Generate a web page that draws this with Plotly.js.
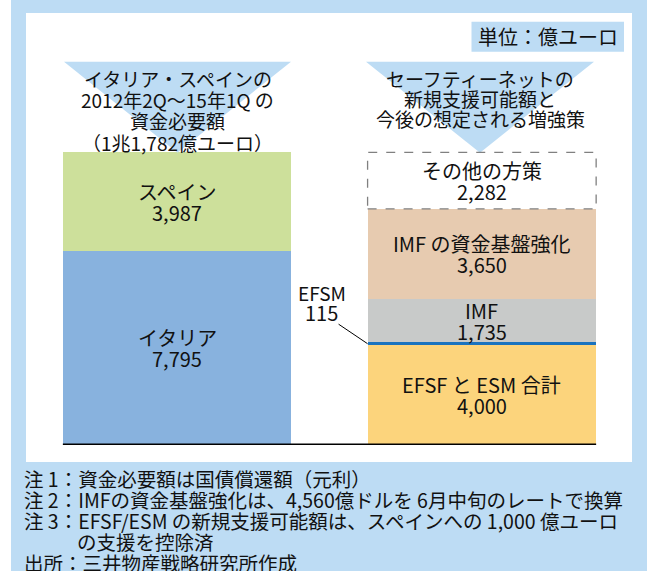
<!DOCTYPE html>
<html>
<head>
<meta charset="utf-8">
<script src="https://cdn.plot.ly/plotly-3.0.1.min.js"></script>
<style>
  html, body { margin: 0; padding: 0; background: #ffffff; }
  #chart { width: 652px; height: 571px; }
</style>
</head>
<body>
<div id="chart"></div>
<script>
// left bar: funding needs of Italy & Spain (100 million euro)
var leftNames = ['イタリア', 'スペイン'];
var leftValues = [7795, 3987];
var leftColors = ['#88b2de', '#cde09b'];

// right bar: safety net capacity and planned reinforcement
var rightNames = ['EFSF と ESM 合計', 'EFSM', 'IMF', 'IMF の資金基盤強化', 'その他の方策'];
var rightValues = [4000, 115, 1735, 3650, 2282];
var rightColors = ['#fcd47c', '#1a73bf', '#c8cac9', '#e7cbb0', '#ffffff'];

var leftHead = ['イタリア・スペインの', '2012年2Q～15年1Q の', '資金必要額', '（1兆1,782億ユーロ）'];
var rightHead = ['セーフティーネットの', '新規支援可能額と', '今後の想定される増強策'];
var unitLabel = '単位：億ユーロ';
var notes = [
    '注 1：資金必要額は国債償還額（元利）',
    '注 2：IMFの資金基盤強化は、4,560億ドルを 6月中旬のレートで換算',
    '注 3：EFSF/ESM の新規支援可能額は、スペインへの 1,000 億ユーロ',
    'の支援を控除済',
    '出所：三井物産戦略研究所作成'
];

var FONT = '"Noto Sans CJK JP", "Noto Sans", sans-serif';
var LIGHT = '#bddcf4';
var BW = 0.75;

var M = { l: 40, r: 33, t: 137, b: 123 };
var PW = 652 - M.l - M.r, PH = 571 - M.t - M.b;
// pixel -> paper helpers for the decorations
function px(x) { return (x - M.l) / PW; }
function py(y) { return (571 - M.b - y) / PH; }

function fmt(v) { return v.toLocaleString('en-US'); }

var traces = [];
var annotations = [];

function label(x, y, xref, yref, t, size, extra) {
    var a = {
        x: x, y: y, xref: xref, yref: yref, text: t, showarrow: false,
        xanchor: 'center', yanchor: 'middle',
        font: { family: FONT, size: size, color: '#111' }
    };
    for (var k in extra) a[k] = extra[k];
    annotations.push(a);
}

function addStack(pos, names, values, colors, skipLabel) {
    var base = 0;
    for (var i = 0; i < values.length; i++) {
        traces.push({
            type: 'bar',
            x: [pos],
            y: [values[i]],
            width: BW,
            name: names[i],
            marker: { color: colors[i], line: { width: 0 } },
            hoverinfo: 'skip'
        });
        var mid = base + values[i] / 2;
        if (names[i] != skipLabel) {
            label(pos, mid, 'x', 'y', names[i], 20, { yshift: 10.5 });
            label(pos, mid, 'x', 'y', fmt(values[i]), 20, { yshift: -10.5 });
        }
        base += values[i];
    }
    return base;
}

var leftTotal = addStack(0, leftNames, leftValues, leftColors, null);
var rightTotal = addStack(1, rightNames, rightValues, rightColors, 'EFSM');

// EFSM callout
var efsmMid = rightValues[0] + rightValues[1] / 2;
annotations.push({
    x: 1 - BW / 2, y: efsmMid, xref: 'x', yref: 'y',
    text: fmt(rightValues[1]), showarrow: true, arrowhead: 0, arrowwidth: 1,
    arrowcolor: '#000', ax: -46, ay: -31, standoff: 0, borderpad: 0,
    font: { family: FONT, size: 20, color: '#111' }
});
label(1 - BW / 2, efsmMid, 'x', 'y', rightNames[1], 19, { xshift: -46, yshift: 51 });

// headings in the triangles
leftHead.forEach(function (t, i) {
    label(px(177.5), py(78.3 + i * 21.3), 'paper', 'paper', t, 19);
});
rightHead.forEach(function (t, i) {
    label(px(480), py(78.3 + i * 20), 'paper', 'paper', t, 19);
});

label(px(548), py(36.7), 'paper', 'paper', unitLabel, 20);

notes.forEach(function (t, i) {
    label(px(i == 3 ? 75 : 22), py(478 + i * 21), 'paper', 'paper', t, 19.5, { xanchor: 'left' });
});

var shapes = [
    // white strips at the picture edges
    { type: 'rect', xref: 'paper', yref: 'paper', x0: px(0), x1: px(11), y0: py(571), y1: py(0),
      fillcolor: '#ffffff', line: { width: 0 }, layer: 'below' },
    { type: 'rect', xref: 'paper', yref: 'paper', x0: px(647), x1: px(652), y0: py(571), y1: py(0),
      fillcolor: '#ffffff', line: { width: 0 }, layer: 'below' },
    // white panel
    { type: 'rect', xref: 'paper', yref: 'paper', x0: px(26), x1: px(632), y0: py(462), y1: py(13),
      fillcolor: '#ffffff', line: { width: 0 }, layer: 'below' },
    // unit box
    { type: 'rect', xref: 'paper', yref: 'paper', x0: px(471.5), x1: px(624), y0: py(51.7), y1: py(21.7),
      fillcolor: LIGHT, line: { width: 0 }, layer: 'above' },
    // triangles
    { type: 'path', xref: 'paper', yref: 'paper',
      path: 'M' + px(64) + ',' + py(61.7) + ' L' + px(291) + ',' + py(61.7) + ' L' + px(177.5) + ',' + py(152.7) + ' Z',
      fillcolor: LIGHT, line: { width: 0 }, layer: 'above' },
    { type: 'path', xref: 'paper', yref: 'paper',
      path: 'M' + px(366) + ',' + py(61.7) + ' L' + px(594) + ',' + py(61.7) + ' L' + px(480) + ',' + py(152.7) + ' Z',
      fillcolor: LIGHT, line: { width: 0 }, layer: 'above' },
    // dashed outline for "other measures"
    { type: 'rect', xref: 'x', yref: 'y', x0: 1 - BW / 2, x1: 1 + BW / 2,
      y0: rightTotal - rightValues[rightValues.length - 1], y1: rightTotal,
      fillcolor: 'rgba(0,0,0,0)', line: { color: '#808080', width: 1.3, dash: 'dash' }, layer: 'above' },
    // baseline
    { type: 'line', xref: 'x', yref: 'y', x0: -BW / 2, x1: 1 + BW / 2, y0: 0, y1: 0,
      line: { color: '#000', width: 1.5 }, layer: 'above' }
];

var layout = {
    width: 652,
    height: 571,
    margin: M,
    paper_bgcolor: LIGHT,
    plot_bgcolor: '#ffffff',
    barmode: 'stack',
    showlegend: false,
    xaxis: { range: [-0.45, 1.45], visible: false, fixedrange: true },
    yaxis: { range: [-150, 12400], visible: false, fixedrange: true },
    shapes: shapes,
    annotations: annotations
};

Plotly.newPlot('chart', traces, layout, { displayModeBar: false, staticPlot: true });
</script>
</body>
</html>
